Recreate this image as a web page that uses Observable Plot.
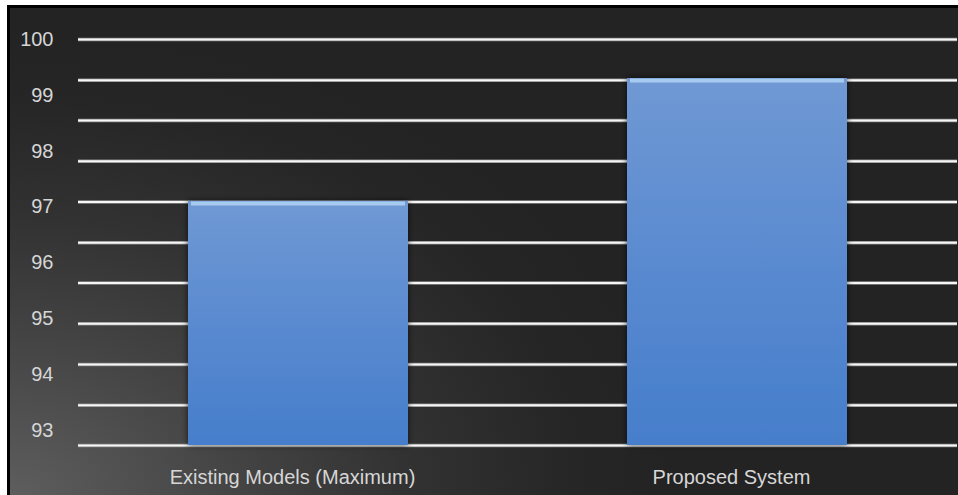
<!DOCTYPE html>
<html>
<head>
<meta charset="utf-8">
<script src="https://cdn.jsdelivr.net/npm/d3@7"></script>
<script src="https://cdn.jsdelivr.net/npm/@observablehq/plot@0.6"></script>
<style>
  html, body { margin: 0; padding: 0; background: #ffffff; width: 958px; height: 495px; overflow: hidden; }
  #wrap { position: relative; width: 958px; height: 495px; }
  #bg {
    position: absolute; left: 7px; top: 5px; width: 948px; height: 490px;
    border-left: 3px solid #000; border-top: 3px solid #000; border-right: 1px solid #111;
    background: radial-gradient(ellipse 70% 95% at 0% 100%, #5e5e5e 0%, #474747 30%, #323232 60%, #262626 85%, #232323 100%);
  }
  #chart { position: absolute; left: 0; top: 0; }
</style>
</head>
<body>
<div id="wrap"><div id="bg"></div><div id="chart"></div></div>
<script>
const categories = ["Existing Models (Maximum)", "Proposed System"];
const values = [97.1, 99.3];
const tickLabels = [93, 94, 95, 96, 97, 98, 99, 100];
const gridValues = [100, 99.27, 98.55, 97.82, 97.09, 96.36, 95.64, 94.91, 94.18, 93.45, 92.73];
const yMin = 92.73, yMax = 100;

const data = categories.map((c, i) => ({category: c, value: values[i]}));

const chart = Plot.plot({
  width: 958,
  height: 495,
  marginTop: 39,
  marginBottom: 50,
  marginLeft: 78,
  marginRight: 1,
  style: {background: "transparent", fontFamily: "'Liberation Sans', Arial, sans-serif", color: "#d6d6d6"},
  x: {domain: categories, paddingInner: 0.5, paddingOuter: 0.25, label: null},
  y: {domain: [yMin, yMax], label: null},
  marks: [
    Plot.ruleY(gridValues, {stroke: "#8a8a8a", strokeWidth: 3.5}),
    Plot.ruleY(gridValues, {stroke: "#f6f6f6", strokeWidth: 2}),
    Plot.barY(data, {x: "category", y1: yMin, y2: "value", fill: "url(#barFill)", className: "bars"}),
    Plot.tickY(data, {x: "category", y: "value", stroke: "#a6cbf1", strokeWidth: 4, dy: 2, insetLeft: 3, insetRight: 3}),
    Plot.axisY({ticks: tickLabels, tickSize: 0, tickPadding: 25, fontSize: 20, tickFormat: d => String(d), fill: "#d6d6d6"}),
    Plot.axisX({tickSize: 0, tickPadding: 24, fontSize: 20, fill: "#d6d6d6", dx: -6})
  ]
});

const svg = d3.select(chart);
const defs = svg.insert("defs", ":first-child");
const g = defs.append("linearGradient").attr("id", "barFill").attr("x1", 0).attr("y1", 0).attr("x2", 0).attr("y2", 1);
g.append("stop").attr("offset", "0%").attr("stop-color", "#7099d4");
g.append("stop").attr("offset", "50%").attr("stop-color", "#5a8ad0");
g.append("stop").attr("offset", "100%").attr("stop-color", "#467ecb");
const f = defs.append("filter").attr("id", "shadow").attr("x", "-10%").attr("y", "-10%").attr("width", "120%").attr("height", "120%");
f.append("feDropShadow").attr("dx", 0).attr("dy", 0).attr("stdDeviation", 3).attr("flood-color", "#000").attr("flood-opacity", 0.7);
svg.selectAll("g.bars").attr("filter", "url(#shadow)");

document.getElementById("chart").appendChild(chart);
</script>
</body>
</html>
